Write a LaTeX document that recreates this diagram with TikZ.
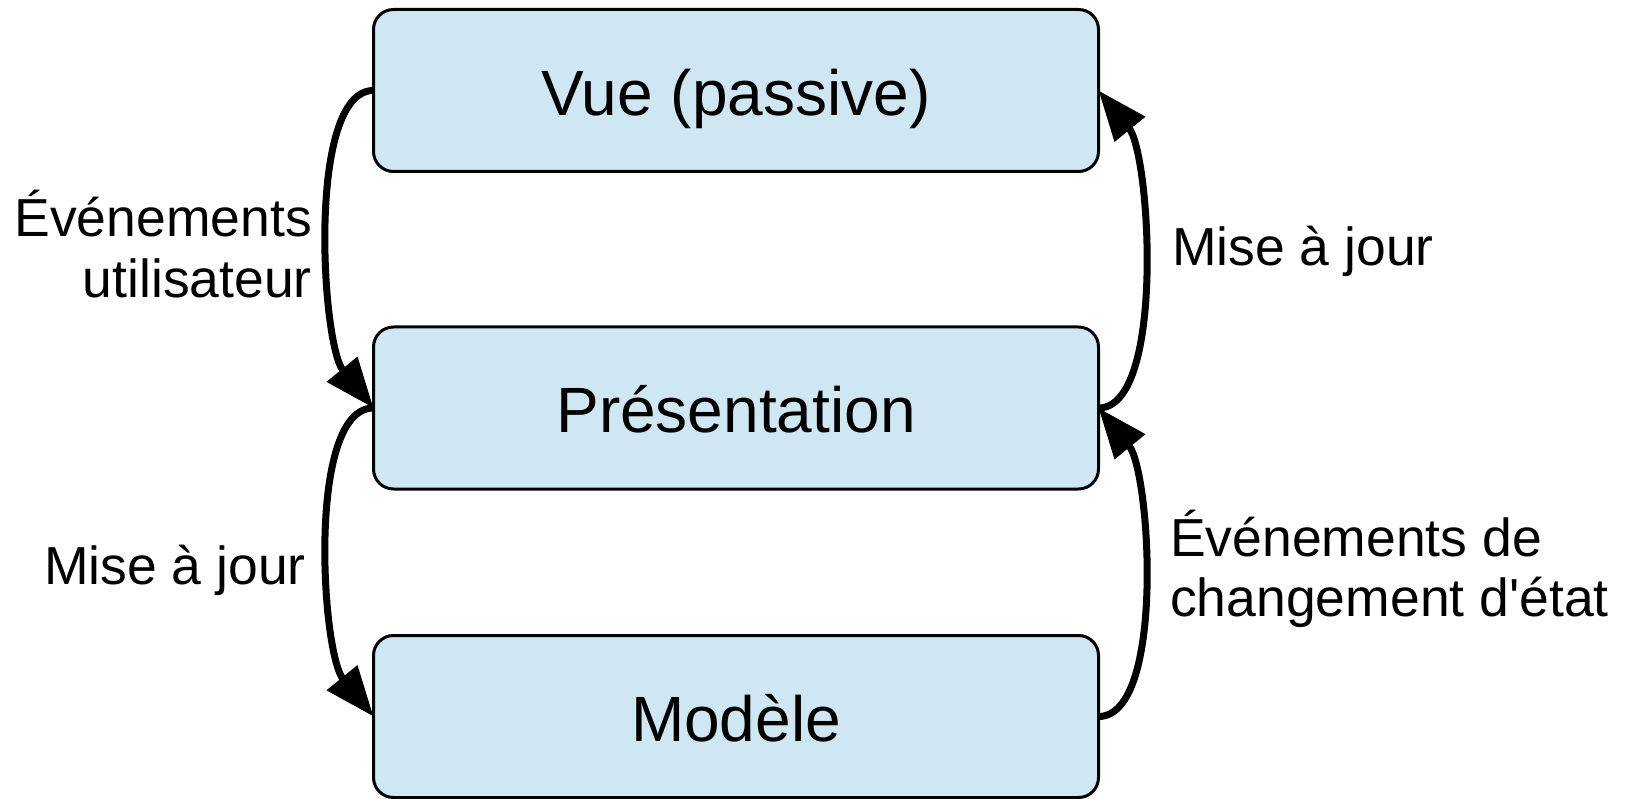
\documentclass[tikz,border=0pt]{standalone}
\usepackage{fontspec}
\setmainfont{Liberation Sans}[Ligatures=TeXOff]
\usetikzlibrary{arrows.meta}
\definecolor{boxfill}{RGB}{207,230,243}
\begin{document}
\begin{tikzpicture}[x=1pt,y=-1pt,
  layer/.style={draw=black, line width=3pt, fill=boxfill, rounded corners=20pt,
    minimum width=725pt, minimum height=162pt, inner sep=0pt, outer sep=0pt,
    text height=50pt, text depth=0pt, font=\fontsize{64}{70}\selectfont},
  lbl/.style={inner sep=0pt, font=\fontsize{53.5}{60}\selectfont},
  flow/.style={line width=7pt, -{Triangle[length=50pt,width=38pt]}}]
\useasboundingbox (0,0) rectangle (1631,799);
\node[layer] (vue) at (736,90.5) {Vue (passive)};
\node[layer] (pres) at (736,408) {Présentation};
\node[layer] (mod) at (736,716.5) {Modèle};
% left connectors
\draw[flow] (vue.west) .. controls (306.5,90.5) and (321.5,344) .. (pres.west);
\draw[flow] (pres.west) .. controls (306.5,408) and (321.5,652.5) .. (mod.west);
% right connectors
\draw[flow] (pres.east) .. controls (1165.5,408) and (1150.5,154.5) .. (vue.east);
\draw[flow] (mod.east) .. controls (1165.5,716.5) and (1150.5,472) .. (pres.east);
% labels
\node[lbl, anchor=base east] (l1a) at (312,237) {Événements};
\node[lbl, anchor=base east] (l1b) at (312,297.5) {utilisateur};
\node[lbl, anchor=base east] (l2) at (306,584) {Mise à jour};
\node[lbl, anchor=base west] (r1) at (1172,266) {Mise à jour};
\node[lbl, anchor=base west] (r2a) at (1170,556) {Événements de};
\node[lbl, anchor=base west] (r2b) at (1170,616) {changement d'état};
\end{tikzpicture}
\end{document}
